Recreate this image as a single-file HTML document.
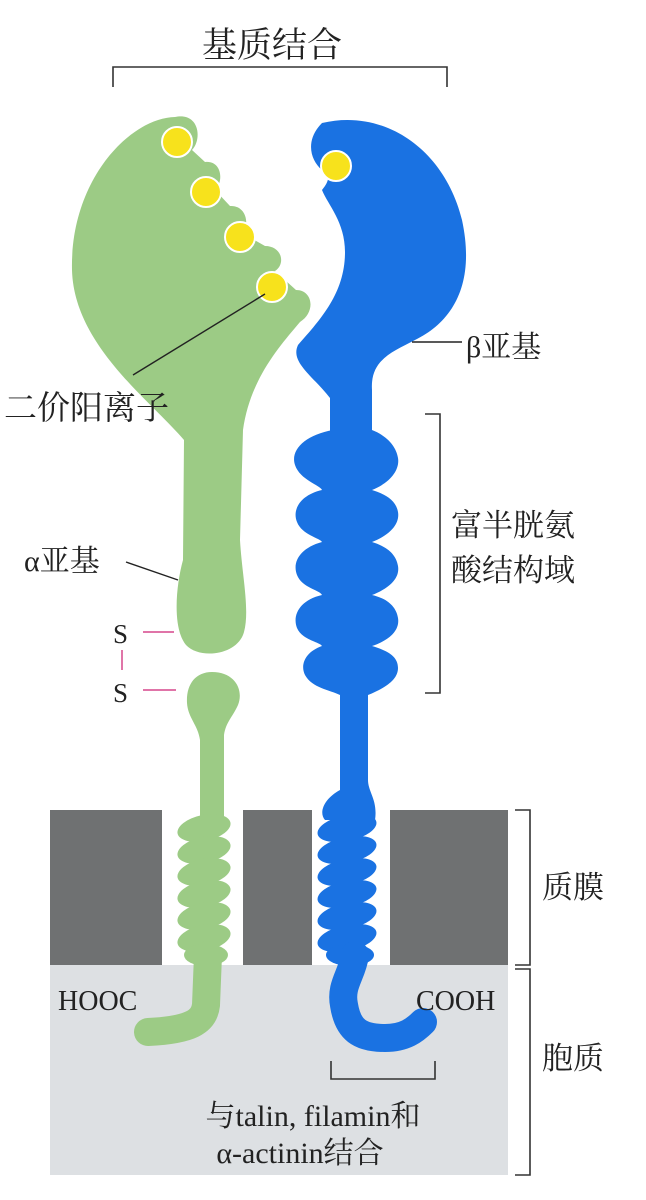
<!DOCTYPE html>
<html><head><meta charset="utf-8"><style>
html,body{margin:0;padding:0;background:#fff;}
svg{display:block;}
text{font-family:"Liberation Serif","Noto Serif CJK SC",serif;fill:#222;}
</style></head><body>
<svg width="646" height="1200" viewBox="0 0 646 1200">
<rect x="50" y="965" width="458" height="210" fill="#dde0e3"/>
<g fill="#6f7172">
<rect x="50" y="810" width="112" height="155"/><rect x="243" y="810" width="69" height="155"/><rect x="390" y="810" width="118" height="155"/>
</g>
<text x="272" y="57" font-size="35" text-anchor="middle">基质结合</text>
<path d="M113,87 V67 H447 V87" fill="none" stroke="#333" stroke-width="1.6"/>
<g fill="#9ccb85">
<path d="M175,117 C200,112 202,140 192,150 L205,162 C222,160 224,182 215,190 L230,206 C247,205 250,226 242,233 L265,246 C282,246 286,264 275,271 L296,290 C313,290 316,312 300,322 C278,348 250,380 243,430 L240,540 C242,575 250,610 244,632 C238,655 200,660 186,645 C172,628 176,585 183,560 L184,440 C150,400 74,345 72,270 C70,180 130,118 175,117 Z"/>
<path d="M212,672 C235,672 244,690 238,705 C232,718 226,722 224,735 L224,820 L200,820 L200,740 C198,725 188,718 187,703 C186,685 195,672 212,672 Z"/>
<ellipse cx="204" cy="828" rx="27" ry="13" transform="rotate(-12 204 828)"/>
<ellipse cx="204" cy="850" rx="27" ry="13" transform="rotate(-12 204 850)"/>
<ellipse cx="204" cy="872" rx="27" ry="13" transform="rotate(-12 204 872)"/>
<ellipse cx="204" cy="894" rx="27" ry="13" transform="rotate(-12 204 894)"/>
<ellipse cx="204" cy="916" rx="27" ry="13" transform="rotate(-12 204 916)"/>
<ellipse cx="204" cy="938" rx="27" ry="13" transform="rotate(-12 204 938)"/>
<ellipse cx="206" cy="955" rx="22" ry="11"/>
<path d="M208,955 L206,1005 C204,1022 190,1030 148,1032" fill="none" stroke="#9ccb85" stroke-width="28" stroke-linecap="round"/>
</g>
<g fill="#1a72e2">
<path d="M322,123 C385,108 445,150 462,220 C476,285 452,322 415,340 C392,352 370,360 372,390 L372,432 L330,432 L330,398 C312,375 290,362 298,345 C322,318 345,292 345,252 C345,222 328,205 322,190 C330,180 330,175 322,170 C310,160 305,140 322,123 Z"/>
<path d="M333,430 C305,435 290,450 295,465 C300,480 320,485 322,490 C300,495 292,510 297,522 C302,535 320,538 322,542 C300,548 292,562 297,575 C302,588 320,590 322,595 C300,600 292,615 297,628 C302,640 320,642 322,646 C305,652 300,665 305,675 C312,688 330,690 340,695 L340,790 C325,798 318,812 325,820 L375,820 C378,800 368,792 368,780 L368,695 C385,688 398,680 398,668 C398,655 385,650 372,646 C390,640 400,630 398,618 C396,605 385,598 372,595 C390,588 400,578 398,566 C396,553 385,546 372,542 C390,535 400,524 398,512 C396,500 385,494 372,490 C390,483 400,470 398,458 C396,445 385,435 372,430 Z"/>
<ellipse cx="347" cy="828" rx="30" ry="13" transform="rotate(-12 347 828)"/>
<ellipse cx="347" cy="850" rx="30" ry="13" transform="rotate(-12 347 850)"/>
<ellipse cx="347" cy="872" rx="30" ry="13" transform="rotate(-12 347 872)"/>
<ellipse cx="347" cy="894" rx="30" ry="13" transform="rotate(-12 347 894)"/>
<ellipse cx="347" cy="916" rx="30" ry="13" transform="rotate(-12 347 916)"/>
<ellipse cx="347" cy="938" rx="30" ry="13" transform="rotate(-12 347 938)"/>
<ellipse cx="350" cy="955" rx="24" ry="11"/>
<path d="M355,955 C352,975 340,985 344,1005 C348,1030 360,1038 385,1038 C405,1038 415,1030 423,1022" fill="none" stroke="#1a72e2" stroke-width="28" stroke-linecap="round"/>
</g>
<g fill="#f7e21c" stroke="#fff" stroke-width="2">
<circle cx="177" cy="142" r="15"/><circle cx="206" cy="192" r="15"/><circle cx="240" cy="237" r="15"/><circle cx="272" cy="287" r="15"/><circle cx="336" cy="166" r="15"/>
</g>
<line x1="265" y1="294" x2="133" y2="375" stroke="#222" stroke-width="1.4"/>
<text x="4" y="419" font-size="33">二价阳离子</text>
<line x1="412" y1="342" x2="462" y2="342" stroke="#222" stroke-width="1.4"/>
<text x="466" y="357" font-size="30">β亚基</text>
<path d="M425,414 H440 V693 H425" fill="none" stroke="#333" stroke-width="1.6"/>
<text x="451" y="536" font-size="31">富半胱氨</text>
<text x="451" y="581" font-size="31">酸结构域</text>
<text x="24" y="571" font-size="30">α亚基</text>
<line x1="126" y1="562" x2="178" y2="580" stroke="#222" stroke-width="1.4"/>
<g fill="#d6478b" stroke="#d6478b">
<text x="113" y="643" font-size="27" fill="#d6478b" stroke="none">S</text>
<line x1="143" y1="632" x2="174" y2="632" stroke-width="1.5"/>
<line x1="122" y1="650" x2="122" y2="670" stroke-width="1.5"/>
<text x="113" y="702" font-size="27" fill="#d6478b" stroke="none">S</text>
<line x1="143" y1="690" x2="176" y2="690" stroke-width="1.5"/>
</g>
<path d="M515,810 H530 V965 H515" fill="none" stroke="#333" stroke-width="1.6"/>
<text x="542" y="898" font-size="31">质膜</text>
<path d="M515,969 H530 V1175 H515" fill="none" stroke="#333" stroke-width="1.6"/>
<text x="542" y="1069" font-size="31">胞质</text>
<text x="58" y="1010" font-size="28">HOOC</text>
<text x="416" y="1010" font-size="28">COOH</text>
<path d="M331,1061 V1079 H435 V1061" fill="none" stroke="#333" stroke-width="1.6"/>
<text x="313" y="1126" font-size="30" text-anchor="middle">与talin, filamin和</text>
<text x="300" y="1163" font-size="30" text-anchor="middle">α-actinin结合</text>
</svg>
</body></html>
